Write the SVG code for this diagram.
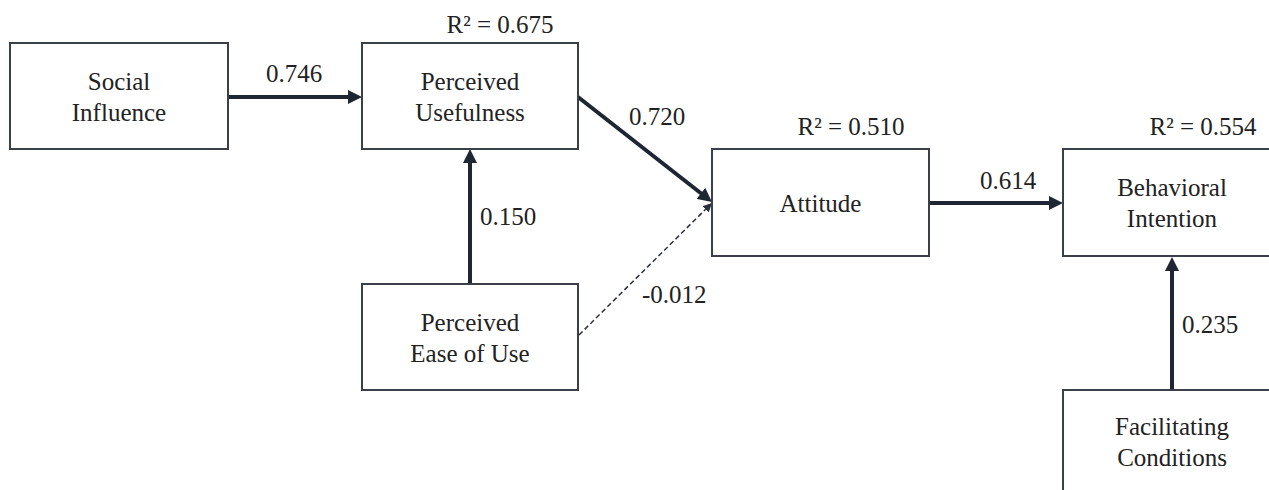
<svg xmlns="http://www.w3.org/2000/svg" width="1269" height="490" viewBox="0 0 1269 490">
<style>
.box{fill:#fff;stroke:#3a3f48;stroke-width:2}
.t{font-size:25px;fill:#222;text-anchor:middle}
.lbl{font-size:25px;fill:#222}
.arr{stroke:#1f2633;stroke-width:4;fill:none}
.dash{stroke:#2a303b;stroke-width:1.5;fill:none;stroke-dasharray:5 3}
</style>
<defs>
<marker id="ah" markerUnits="userSpaceOnUse" markerWidth="16" markerHeight="14" refX="4" refY="7" orient="auto">
<path d="M0,0 L14,7 L0,14 Z" fill="#1f2633"/>
</marker>
<marker id="ahs" markerUnits="userSpaceOnUse" markerWidth="12" markerHeight="10" refX="3" refY="4.5" orient="auto">
<path d="M0,0 L9,4.5 L0,9 Z" fill="#2a303b"/>
</marker>
</defs>
<rect width="1269" height="490" fill="#fff"/>
<g font-family="'Liberation Serif', 'DejaVu Serif', serif">
<g id="connectors">
<line class="arr" x1="228" y1="97" x2="352" y2="97" marker-end="url(#ah)"/>
<line class="arr" x1="470" y1="284" x2="470" y2="159" marker-end="url(#ah)"/>
<line class="arr" x1="578" y1="97" x2="704.1" y2="195.8" marker-end="url(#ah)"/>
<line class="dash" x1="579" y1="335" x2="707.7" y2="207.2" marker-end="url(#ahs)"/>
<line class="arr" x1="929" y1="203" x2="1053" y2="203" marker-end="url(#ah)"/>
<line class="arr" x1="1172" y1="390" x2="1172" y2="267" marker-end="url(#ah)"/>
<text class="lbl" x="266" y="82">0.746</text>
<text class="lbl" x="629" y="125">0.720</text>
<text class="lbl" x="480" y="225">0.150</text>
<text class="lbl" x="642" y="303">-0.012</text>
<text class="lbl" x="980" y="189">0.614</text>
<text class="lbl" x="1182" y="333">0.235</text>
</g>
<g id="social-influence">
<rect class="box" x="10" y="43" width="218" height="106"/>
<text class="t" x="119" y="90">Social</text>
<text class="t" x="119" y="121">Influence</text>
</g>
<g id="perceived-usefulness">
<rect class="box" x="362" y="43" width="216" height="106"/>
<text class="t" x="470" y="90">Perceived</text>
<text class="t" x="470" y="121">Usefulness</text>
<text class="t" x="500" y="33">R² = 0.675</text>
</g>
<g id="perceived-ease-of-use">
<rect class="box" x="362" y="284" width="216" height="106"/>
<text class="t" x="470" y="331">Perceived</text>
<text class="t" x="470" y="362">Ease of Use</text>
</g>
<g id="attitude">
<rect class="box" x="712" y="149" width="217" height="107"/>
<text class="t" x="820.5" y="212">Attitude</text>
<text class="t" x="851" y="135">R² = 0.510</text>
</g>
<g id="behavioral-intention">
<rect class="box" x="1063" y="149" width="218" height="107"/>
<text class="t" x="1172" y="196">Behavioral</text>
<text class="t" x="1172" y="227">Intention</text>
<text class="t" x="1203" y="135">R² = 0.554</text>
</g>
<g id="facilitating-conditions">
<rect class="box" x="1063" y="390" width="218" height="106"/>
<text class="t" x="1172" y="435">Facilitating</text>
<text class="t" x="1172" y="466">Conditions</text>
</g>
</g>
</svg>
